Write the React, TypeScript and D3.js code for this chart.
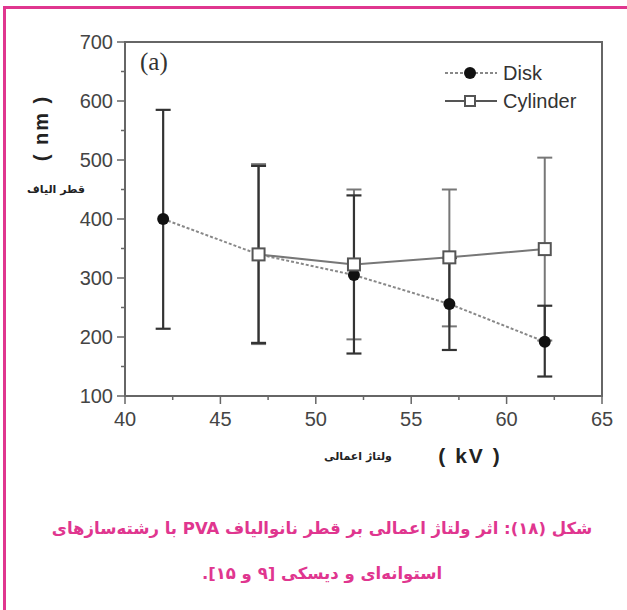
import React, { useEffect, useRef } from 'react';
import * as d3 from 'd3';

// voltage (kV) and fibre diameter (nm)
const diskVoltage = [42, 47, 52, 57, 62];
const diskMean = [400, 340, 305, 256, 192];
const diskLow = [214, 190, 172, 178, 133];
const diskHigh = [585, 490, 440, 334, 253];

const cylVoltage = [47, 52, 57, 62];
const cylMean = [340, 323, 335, 349];
const cylLow = [188, 196, 218, 194];
const cylHigh = [493, 450, 450, 504];

const xTicks = [40, 45, 50, 55, 60, 65];
const xMinor = [42.5, 47.5, 52.5, 57.5, 62.5];
const yTicks = [100, 200, 300, 400, 500, 600, 700];
const yMinor = [150, 250, 350, 450, 550, 650];

const legendNames = ['Disk', 'Cylinder'];
const captionLines = [
	'شکل (۱۸): اثر ولتاژ اعمالی بر قطر نانوالیاف PVA با رشته‌سازهای',
	'استوانه‌ای و دیسکی [۹ و ۱۵].',
];

const W = 627, H = 610;
const left = 125, right = 602, top = 42, bottom = 396;
const pink = '#e0368f';
const frame = '#666';

const App = () => {
	const ref = useRef<SVGSVGElement>(null);

	useEffect(() => {
		const svg = d3.select(ref.current);
		svg.selectAll('*').remove();

		const x = d3.scaleLinear().domain([40, 65]).range([left, right]);
		const y = d3.scaleLinear().domain([100, 700]).range([bottom, top]);

		svg.append('rect').attr('width', W).attr('height', H).attr('fill', '#fff');

		// pink frame (left + top only visible)
		svg.append('path').attr('d', `M4.5,${H} V7.5 H${W}`)
			.attr('fill', 'none').attr('stroke', pink).attr('stroke-width', 3);

		// ticks
		const g = svg.append('g');
		g.selectAll('.ymaj').data(yTicks).enter().append('line')
			.attr('x1', left - 8).attr('x2', left)
			.attr('y1', d => y(d)).attr('y2', d => y(d))
			.attr('stroke', frame).attr('stroke-width', 1.5);
		g.selectAll('.ymin').data(yMinor).enter().append('line')
			.attr('x1', left - 4).attr('x2', left)
			.attr('y1', d => y(d)).attr('y2', d => y(d))
			.attr('stroke', frame).attr('stroke-width', 1.5);
		g.selectAll('.xmaj').data(xTicks).enter().append('line')
			.attr('x1', d => x(d)).attr('x2', d => x(d))
			.attr('y1', bottom).attr('y2', bottom + 8)
			.attr('stroke', frame).attr('stroke-width', 1.5);
		g.selectAll('.xmin').data(xMinor).enter().append('line')
			.attr('x1', d => x(d)).attr('x2', d => x(d))
			.attr('y1', bottom).attr('y2', bottom + 4)
			.attr('stroke', frame).attr('stroke-width', 1.5);

		g.selectAll('.ylab').data(yTicks).enter().append('text')
			.text(d => d)
			.attr('x', left - 12).attr('y', d => y(d) + 7)
			.attr('text-anchor', 'end')
			.style('font-family', 'Liberation Sans, Arial, sans-serif')
			.style('font-size', '20px').attr('fill', '#444');
		g.selectAll('.xlab').data(xTicks).enter().append('text')
			.text(d => d)
			.attr('x', d => x(d)).attr('y', bottom + 30)
			.attr('text-anchor', 'middle')
			.style('font-family', 'Liberation Sans, Arial, sans-serif')
			.style('font-size', '20px').attr('fill', '#444');

		// frame of the plot
		svg.append('rect')
			.attr('x', left).attr('y', top)
			.attr('width', right - left).attr('height', bottom - top)
			.attr('fill', 'none').attr('stroke', frame).attr('stroke-width', 2);

		// error bars
		const cap = 7.5;
		const errBars = (vx: number[], lo: number[], hi: number[], color: string, sw: number) => {
			const eg = svg.append('g').attr('stroke', color).attr('stroke-width', sw).attr('fill', 'none');
			vx.forEach((v, i) => {
				eg.append('line').attr('x1', x(v)).attr('x2', x(v)).attr('y1', y(lo[i])).attr('y2', y(hi[i]));
				eg.append('line').attr('x1', x(v) - cap).attr('x2', x(v) + cap).attr('y1', y(lo[i])).attr('y2', y(lo[i]));
				eg.append('line').attr('x1', x(v) - cap).attr('x2', x(v) + cap).attr('y1', y(hi[i])).attr('y2', y(hi[i]));
			});
		};
		errBars(cylVoltage, cylLow, cylHigh, '#777', 2);
		errBars(diskVoltage, diskLow, diskHigh, '#333', 2.2);

		const diskPts = diskVoltage.map((v, i) => [x(v), y(diskMean[i])] as [number, number]);
		const cylPts = cylVoltage.map((v, i) => [x(v), y(cylMean[i])] as [number, number]);

		svg.append('path').attr('d', d3.line()(diskPts))
			.attr('fill', 'none').attr('stroke', '#888').attr('stroke-width', 2).attr('stroke-dasharray', '3,2');
		svg.append('path').attr('d', d3.line()(cylPts))
			.attr('fill', 'none').attr('stroke', '#777').attr('stroke-width', 2);

		svg.selectAll('.disk').data(diskPts).enter().append('circle')
			.attr('cx', d => d[0]).attr('cy', d => d[1]).attr('r', 6).attr('fill', '#111');
		svg.selectAll('.cyl').data(cylPts).enter().append('rect')
			.attr('x', d => d[0] - 6).attr('y', d => d[1] - 6)
			.attr('width', 12).attr('height', 12)
			.attr('fill', '#fff').attr('stroke', '#555').attr('stroke-width', 2);

		// "(a)"
		svg.append('text').text('(a)').attr('x', 140).attr('y', 70)
			.style('font-family', 'Liberation Serif, Times New Roman, serif')
			.style('font-size', '25px').attr('fill', '#333');

		// legend
		const lg = svg.append('g');
		legendNames.forEach((name, i) => {
			const ly = 73 + i * 28;
			lg.append('line').attr('x1', 445).attr('x2', 497).attr('y1', ly).attr('y2', ly)
				.attr('stroke', i === 0 ? '#888' : '#555').attr('stroke-width', 2)
				.attr('stroke-dasharray', i === 0 ? '3,2' : null);
			if (i === 0) lg.append('circle').attr('cx', 470).attr('cy', ly).attr('r', 6).attr('fill', '#111');
			else lg.append('rect').attr('x', 465).attr('y', ly - 5).attr('width', 10).attr('height', 10)
				.attr('fill', '#fff').attr('stroke', '#555').attr('stroke-width', 2);
			lg.append('text').text(name).attr('x', 503).attr('y', ly + 7)
				.style('font-family', 'Liberation Sans, Arial, sans-serif')
				.style('font-size', '20px').attr('fill', '#333');
		});

		// axis titles
		svg.append('text').text('( nm )')
			.attr('transform', 'translate(48,128) rotate(-90)')
			.attr('text-anchor', 'middle')
			.style('font-family', 'Liberation Sans, Arial, sans-serif')
			.style('letter-spacing', '2px')
			.style('font-size', '20px').style('font-weight', 'bold').attr('fill', '#222');
		svg.append('text').text('قطر الیاف')
			.attr('x', 56).attr('y', 193).attr('text-anchor', 'middle')
			.style('font-family', 'DejaVu Sans, sans-serif')
			.style('font-size', '11px').style('font-weight', 'bold').attr('fill', '#222');
		svg.append('text').text('ولتاژ اعمالی')
			.attr('x', 358).attr('y', 460).attr('text-anchor', 'middle')
			.style('font-family', 'DejaVu Sans, sans-serif')
			.style('font-size', '11px').style('font-weight', 'bold').attr('fill', '#222');
		svg.append('text').text('( kV )')
			.attr('x', 470).attr('y', 463).attr('text-anchor', 'middle')
			.style('font-family', 'Liberation Sans, Arial, sans-serif')
			.style('letter-spacing', '2px')
			.style('font-size', '21px').style('font-weight', 'bold').attr('fill', '#222');

		// caption
		captionLines.forEach((t, i) => {
			svg.append('text').text(t)
				.attr('x', 322).attr('y', 534 + i * 45).attr('text-anchor', 'middle')
				.attr('direction', 'rtl')
				.style('font-family', 'DejaVu Sans, sans-serif')
				.style('font-size', '16.5px').style('font-weight', 'bold').attr('fill', pink);
		});
	}, []);

	return (
		<svg ref={ref} width={W} height={H}
			style={{ position: 'absolute', left: 0, top: 0, display: 'block' }} />
	);
};

export default App;
